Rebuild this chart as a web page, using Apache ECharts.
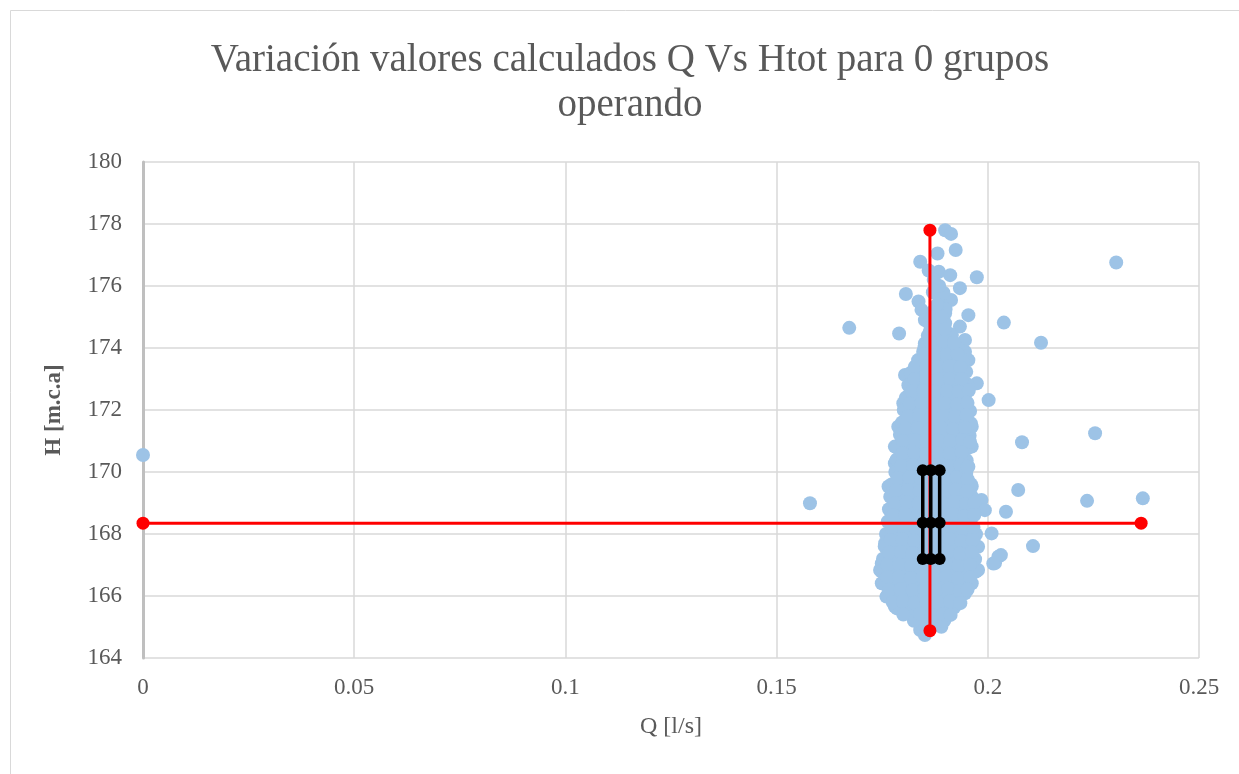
<!DOCTYPE html>
<html><head><meta charset="utf-8">
<script src="https://cdn.jsdelivr.net/npm/echarts@6/dist/echarts.min.js"></script>
<style>html,body{margin:0;padding:0;background:#fff}#c{width:1239px;height:774px}</style>
</head><body><div id="c"></div>
<script>
const titleText = "Variación valores calculados Q Vs Htot para 0 grupos\noperando";
const xName = "Q [l/s]";
const yName = "H [m.c.a]";
const xTicks = [0, 0.05, 0.1, 0.15, 0.2, 0.25];
const yTicks = [164, 166, 168, 170, 172, 174, 176, 178, 180];

// measured points (Q, H) - outliers and edges of the cloud
const scatterEdge = [
[0,170.55],[0.1579,168.99],[0.1672,174.65],[0.2304,176.76],[0.2038,174.82],[0.2126,174.17],
[0.2081,170.96],[0.2254,171.25],[0.2072,169.42],[0.2043,168.72],[0.2235,169.07],[0.2367,169.15],
[0.2107,167.61],[0.2031,167.32],[0.2017,167.06],
[0.1899,177.8],[0.1913,177.68],[0.1924,177.16],[0.1881,177.05],[0.1840,176.78],[0.1860,176.5],
[0.1884,176.46],[0.1911,176.35],[0.1974,176.28],[0.1934,175.93],[0.1806,175.74],[0.1836,175.5],
[0.1891,175.55],[0.1913,175.55],[0.1843,175.23],[0.1899,175.12],[0.1954,175.06],[0.1851,174.9],
[0.1899,174.8],[0.1934,174.69],[0.1790,174.47],[0.1863,174.53],[0.1915,174.42],[0.1946,174.26],
[0.1851,174.15],[0.1891,174.15],[0.1922,173.99],[0.1946,173.88],[0.1847,173.88],[0.1835,173.61],
[0.1954,173.61],[0.1804,173.13],[0.1828,173.4],[0.1974,172.86],[0.2002,172.32],[0.1800,172.22],
[0.1788,171.46],[0.1962,171.46],[0.1780,170.82],[0.1962,170.82],[0.1780,170.28],[0.1954,170.17],
[0.1765,169.53],[0.1962,169.53],[0.1985,169.1],[0.1783,168.88],[0.1993,168.77],[0.2009,168.02],
[0.1757,167.7],[0.1977,167.59],[0.2025,167.27],[0.2013,167.05],[0.1749,167.05],[0.1745,166.84],
[0.1977,166.84],[0.1749,166.41],[0.1962,166.41],[0.1760,165.98],[0.1946,166.09],[0.1780,165.66],
[0.1922,165.76],[0.1828,165.33],[0.1899,165.44],[0.1840,164.9],[0.1890,165.01],[0.1851,164.74]
];

// estimated points inside the dense core of the cloud
const scatterCore = [
[0.1850,174.02],[0.1878,173.98],[0.1905,174.05],[0.1930,174.0],
[0.1858,174.4],[0.1885,174.38],[0.1910,174.45],[0.1860,174.82],[0.1885,174.78],
[0.1872,175.2],[0.1900,175.25],[0.1870,175.8],[0.1895,175.78],[0.1872,176.2],
[0.1838,173.6],[0.1862,173.62],[0.1889,173.58],[0.1915,173.63],[0.1941,173.57],
[0.1818,173.2],[0.1845,173.22],[0.1873,173.18],[0.1901,173.21],[0.1928,173.19],[0.1949,173.23],
[0.1812,172.8],[0.1840,172.82],[0.1868,172.78],[0.1896,172.81],[0.1924,172.79],[0.1951,172.83],
[0.1806,172.4],[0.1833,172.42],[0.1861,172.38],[0.1889,172.41],[0.1917,172.39],[0.1945,172.43],
[0.1801,172.0],[0.1829,172.02],[0.1857,171.98],[0.1885,172.01],[0.1913,171.99],[0.1941,172.03],[0.1958,171.97],
[0.1797,171.6],[0.1824,171.62],[0.1852,171.58],[0.1880,171.61],[0.1908,171.59],[0.1936,171.63],[0.1960,171.57],
[0.1792,171.2],[0.1820,171.22],[0.1848,171.18],[0.1876,171.21],[0.1904,171.19],[0.1932,171.23],[0.1957,171.17],
[0.1785,170.8],[0.1813,170.82],[0.1841,170.78],[0.1869,170.81],[0.1897,170.79],[0.1925,170.83],[0.1953,170.77],
[0.1784,170.4],[0.1812,170.42],[0.1840,170.38],[0.1868,170.41],[0.1896,170.39],[0.1924,170.43],[0.1950,170.37],
[0.1781,170.0],[0.1809,170.02],[0.1837,169.98],[0.1865,170.01],[0.1893,169.99],[0.1921,170.03],[0.1949,169.97],
[0.1772,169.6],[0.1800,169.62],[0.1828,169.58],[0.1856,169.61],[0.1884,169.59],[0.1912,169.63],[0.1940,169.57],[0.1960,169.61],
[0.1769,169.2],[0.1797,169.22],[0.1825,169.18],[0.1853,169.21],[0.1881,169.19],[0.1909,169.23],[0.1937,169.17],[0.1962,169.21],
[0.1766,168.8],[0.1794,168.82],[0.1822,168.78],[0.1850,168.81],[0.1878,168.79],[0.1906,168.83],[0.1934,168.77],[0.1966,168.81],
[0.1763,168.4],[0.1791,168.42],[0.1819,168.38],[0.1847,168.41],[0.1875,168.39],[0.1903,168.43],[0.1931,168.37],[0.1959,168.41],
[0.1759,168.0],[0.1787,168.02],[0.1815,167.98],[0.1843,168.01],[0.1871,167.99],[0.1899,168.03],[0.1927,167.97],[0.1955,168.01],[0.1972,167.99],
[0.1756,167.6],[0.1784,167.62],[0.1812,167.58],[0.1840,167.61],[0.1868,167.59],[0.1896,167.63],[0.1924,167.57],[0.1952,167.61],[0.1973,167.59],
[0.1752,167.2],[0.1780,167.22],[0.1808,167.18],[0.1836,167.21],[0.1864,167.19],[0.1892,167.23],[0.1920,167.17],[0.1948,167.21],[0.1970,167.19],
[0.1748,166.8],[0.1776,166.82],[0.1804,166.78],[0.1832,166.81],[0.1860,166.79],[0.1888,166.83],[0.1916,166.77],[0.1944,166.81],[0.1972,166.79],
[0.1752,166.4],[0.1780,166.42],[0.1808,166.38],[0.1836,166.41],[0.1864,166.39],[0.1892,166.43],[0.1920,166.37],[0.1948,166.41],
[0.1762,166.0],[0.1790,166.02],[0.1818,165.98],[0.1846,166.01],[0.1874,165.99],[0.1902,166.03],[0.1930,165.97],
[0.1785,165.6],[0.1813,165.62],[0.1841,165.58],[0.1869,165.61],[0.1897,165.59],[0.1920,165.63],
[0.1825,165.2],[0.1853,165.22],[0.1881,165.18],[0.1897,165.21]
];

// estimated points between the rows above (staggered), filling the core
const scatterFill = [
[0.1850,173.8],[0.1876,173.82],[0.1903,173.78],[0.1928,173.81],
[0.1864,174.2],[0.1895,174.22],[0.1920,174.18],[0.1872,174.6],[0.1898,174.62],
[0.1868,175.0],[0.1890,175.02],[0.1880,175.4],[0.1885,176.0],
[0.1828,173.4],[0.1855,173.42],[0.1882,173.38],[0.1908,173.41],[0.1935,173.39],
[0.1826,173.0],[0.1854,173.02],[0.1882,172.98],[0.1910,173.01],[0.1938,172.99],
[0.1820,172.6],[0.1847,172.62],[0.1875,172.58],[0.1903,172.61],[0.1931,172.59],[0.1955,172.63],
[0.1815,172.2],[0.1843,172.22],[0.1871,172.18],[0.1899,172.21],[0.1927,172.19],[0.1952,172.23],
[0.1811,171.8],[0.1838,171.82],[0.1866,171.78],[0.1894,171.81],[0.1922,171.79],[0.1950,171.83],
[0.1806,171.4],[0.1834,171.42],[0.1862,171.38],[0.1890,171.41],[0.1918,171.39],[0.1946,171.43],
[0.1799,171.0],[0.1827,171.02],[0.1855,170.98],[0.1883,171.01],[0.1911,170.99],[0.1939,171.03],[0.1958,170.97],
[0.1798,170.6],[0.1826,170.62],[0.1854,170.58],[0.1882,170.61],[0.1910,170.59],[0.1938,170.63],
[0.1795,170.2],[0.1823,170.22],[0.1851,170.18],[0.1879,170.21],[0.1907,170.19],[0.1935,170.23],[0.1952,170.17],
[0.1786,169.8],[0.1814,169.82],[0.1842,169.78],[0.1870,169.81],[0.1898,169.79],[0.1926,169.83],[0.1952,169.77],
[0.1783,169.4],[0.1811,169.42],[0.1839,169.38],[0.1867,169.41],[0.1895,169.39],[0.1923,169.43],[0.1950,169.37],
[0.1780,169.0],[0.1808,169.02],[0.1836,168.98],[0.1864,169.01],[0.1892,168.99],[0.1920,169.03],[0.1948,168.97],[0.1968,169.01],
[0.1777,168.6],[0.1805,168.62],[0.1833,168.58],[0.1861,168.61],[0.1889,168.59],[0.1917,168.63],[0.1945,168.57],[0.1968,168.61],
[0.1773,168.2],[0.1801,168.22],[0.1829,168.18],[0.1857,168.21],[0.1885,168.19],[0.1913,168.23],[0.1941,168.17],[0.1966,168.21],
[0.1770,167.8],[0.1798,167.82],[0.1826,167.78],[0.1854,167.81],[0.1882,167.79],[0.1910,167.83],[0.1938,167.77],[0.1964,167.81],
[0.1766,167.4],[0.1794,167.42],[0.1822,167.38],[0.1850,167.41],[0.1878,167.39],[0.1906,167.43],[0.1934,167.37],[0.1962,167.41],
[0.1762,167.0],[0.1790,167.02],[0.1818,166.98],[0.1846,167.01],[0.1874,166.99],[0.1902,167.03],[0.1930,166.97],[0.1958,167.01],
[0.1762,166.6],[0.1790,166.62],[0.1818,166.58],[0.1846,166.61],[0.1874,166.59],[0.1902,166.63],[0.1930,166.57],[0.1958,166.61],
[0.1766,166.2],[0.1794,166.22],[0.1822,166.18],[0.1850,166.21],[0.1878,166.19],[0.1906,166.23],[0.1934,166.17],[0.1952,166.21],
[0.1775,165.8],[0.1799,165.82],[0.1827,165.78],[0.1855,165.81],[0.1883,165.79],[0.1911,165.83],[0.1935,165.77],
[0.1800,165.4],[0.1839,165.42],[0.1867,165.38],[0.1895,165.41],[0.1912,165.39]
];

const redH = [[0, 168.35], [0.2363, 168.35]];
const redV = [[0.1863, 164.88], [0.1863, 177.8]];
const blackQ = [0.1846, 0.1865, 0.1886];
const blackH = [167.19, 168.36, 170.06];

const serif = "'Liberation Serif','Times New Roman',serif";
const gray = '#595959';

const blackSeries = blackQ.map(q => ({
  type: 'line', data: blackH.map(h => [q, h]), symbol: 'circle', symbolSize: 12,
  itemStyle: { color: '#000' }, lineStyle: { color: '#000', width: 3.5 }, z: 5, animation: false
}));

const chart = echarts.init(document.getElementById('c'), null, { renderer: 'canvas' });
chart.setOption({
  animation: false,
  backgroundColor: '#fff',
  graphic: [
    { type: 'rect', shape: { x: 10.5, y: 10.5, width: 1260, height: 800 },
      style: { fill: 'none', stroke: '#d9d9d9', lineWidth: 1 }, silent: true, z: -10 },
    { type: 'text', x: 630, y: 38, silent: true, z: 10,
      style: { text: titleText, align: 'center', verticalAlign: 'top', fill: gray,
        fontFamily: serif, fontSize: 39, lineHeight: 45 } }
  ],
  grid: { left: 143, right: 40, top: 162, bottom: 116, containLabel: false },
  xAxis: { type: 'value', min: xTicks[0], max: xTicks[xTicks.length - 1], interval: 0.05,
    name: xName, nameLocation: 'middle', nameGap: 57,
    nameTextStyle: { fontFamily: serif, fontSize: 24, color: gray },
    axisLine: { show: false }, axisTick: { show: false },
    axisLabel: { fontFamily: serif, fontSize: 23, color: gray, margin: 18 },
    splitLine: { show: true, lineStyle: { color: '#d9d9d9', width: 1.5 } } },
  yAxis: { type: 'value', min: yTicks[0], max: yTicks[yTicks.length - 1], interval: 2,
    name: yName, nameLocation: 'middle', nameGap: 77, nameRotate: 90,
    nameTextStyle: { fontFamily: serif, fontSize: 23, color: gray, fontWeight: 'bold' },
    axisLine: { show: true, lineStyle: { color: '#bfbfbf', width: 3 } }, axisTick: { show: false },
    axisLabel: { fontFamily: serif, fontSize: 23, color: gray, margin: 21 },
    splitLine: { show: true, lineStyle: { color: '#d9d9d9', width: 1.5 } } },
  series: [
    { type: 'scatter', data: scatterEdge.concat(scatterCore, scatterFill), symbolSize: 14,
      itemStyle: { color: '#9dc3e6', opacity: 1 }, z: 2 },
    { type: 'line', data: redH, symbol: 'circle', symbolSize: 13,
      itemStyle: { color: '#ff0000' }, lineStyle: { color: '#ff0000', width: 3 }, z: 3 },
    { type: 'line', data: redV, symbol: 'circle', symbolSize: 13,
      itemStyle: { color: '#ff0000' }, lineStyle: { color: '#ff0000', width: 3 }, z: 3 }
  ].concat(blackSeries)
});
</script></body></html>
